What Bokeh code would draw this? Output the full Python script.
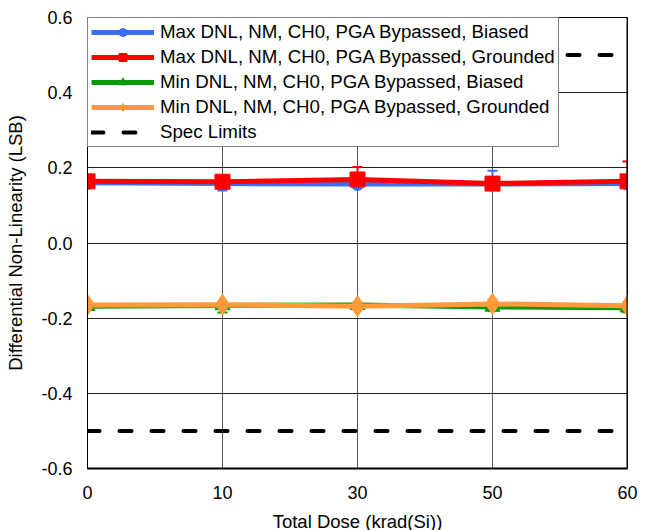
from bokeh.plotting import figure
from bokeh.models import (Range1d, FixedTicker, NumeralTickFormatter, Whisker,
                          ColumnDataSource, Span, TeeHead, Legend)
from bokeh.embed import file_html
from bokeh.resources import INLINE

# ---- data ----
doses = ["0", "10", "30", "50", "60"]
max_biased = [0.160, 0.158, 0.157, 0.157, 0.158]
max_grounded = [0.164, 0.163, 0.169, 0.158, 0.164]
min_biased = [-0.168, -0.166, -0.165, -0.170, -0.172]
min_grounded = [-0.165, -0.164, -0.168, -0.162, -0.167]

max_biased_lo = [0.150, 0.140, 0.150, 0.150, 0.150]
max_biased_hi = [0.168, 0.168, 0.168, 0.192, 0.168]
max_grounded_lo = [0.155, 0.155, 0.160, 0.150, 0.155]
max_grounded_hi = [0.172, 0.172, 0.202, 0.166, 0.217]
min_biased_lo = [-0.178, -0.185, -0.175, -0.180, -0.184]
min_biased_hi = [-0.160, -0.158, -0.158, -0.162, -0.164]
min_grounded_lo = [-0.175, -0.174, -0.178, -0.172, -0.177]
min_grounded_hi = [-0.157, -0.156, -0.160, -0.150, -0.159]

spec_upper = 0.5
spec_lower = -0.5
y_ticks = [-0.6, -0.4, -0.2, 0.0, 0.2, 0.4, 0.6]

labels = [
    "Max DNL, NM, CH0, PGA Bypassed, Biased",
    "Max DNL, NM, CH0, PGA Bypassed, Grounded",
    "Min DNL, NM, CH0, PGA Bypassed, Biased",
    "Min DNL, NM, CH0, PGA Bypassed, Grounded",
    "Spec Limits",
]

FONT = "Liberation Sans"
x = list(range(len(doses)))

p = figure(width=637, height=523, output_backend="svg", toolbar_location=None,
           x_range=Range1d(0, len(doses) - 1), y_range=Range1d(-0.6, 0.6),
           min_border_left=87, min_border_right=10, min_border_top=17,
           min_border_bottom=55)
p.frame_width = 540
p.frame_height = 451

p.outline_line_color = "black"
p.outline_line_width = 1
p.background_fill_color = "white"

p.xaxis.ticker = FixedTicker(ticks=x)
p.xaxis.major_label_overrides = {i: d for i, d in enumerate(doses)}
p.yaxis.ticker = FixedTicker(ticks=y_ticks)
p.yaxis.formatter = NumeralTickFormatter(format="0.0")

for ax in (p.xaxis[0], p.yaxis[0]):
    ax.major_tick_out = 0
    ax.major_tick_in = 0
    ax.minor_tick_out = 0
    ax.minor_tick_in = 0
    ax.major_label_text_font = FONT
    ax.major_label_text_font_size = "18px"
    ax.major_label_text_color = "black"
    ax.axis_label_text_font = FONT
    ax.axis_label_text_font_size = "18.5px"
    ax.axis_label_text_font_style = "normal"
    ax.axis_label_text_color = "black"
    ax.axis_line_color = "black"

p.xaxis.major_label_standoff = 17
p.yaxis.major_label_standoff = 15
p.xaxis.axis_line_width = 2
p.yaxis.axis_line_width = 1
p.xaxis.axis_label = "Total Dose (krad(Si))"
p.yaxis.axis_label = "Differential Non-Linearity (LSB)"
p.xaxis.axis_label_standoff = 9
p.yaxis.axis_label_standoff = 12

p.xgrid.grid_line_color = "#555555"
p.xgrid.grid_line_width = 1
p.ygrid.grid_line_color = "#222222"
p.ygrid.grid_line_width = 1

p.add_layout(Span(location=len(doses) - 1, dimension="height",
                  line_color="black", line_width=2))

series = [
    (max_biased, max_biased_lo, max_biased_hi, "#3C6CF0", "circle", 13, labels[0]),
    (max_grounded, max_grounded_lo, max_grounded_hi, "#FF0000", "square", 15, labels[1]),
    (min_biased, min_biased_lo, min_biased_hi, "#0A990A", "triangle", 15, labels[2]),
    (min_grounded, min_grounded_lo, min_grounded_hi, "#FF9A3A", "diamond", 21, labels[3]),
]

legend_items = []
for ys, lo, hi, color, marker, size, lab in series:
    src = ColumnDataSource(dict(x=x, y=ys, lo=lo, hi=hi))
    w = Whisker(source=src, base="x", lower="lo", upper="hi",
                line_color=color, line_width=2,
                upper_head=TeeHead(size=10, line_color=color, line_width=2),
                lower_head=TeeHead(size=10, line_color=color, line_width=2))
    p.add_layout(w)
    l = p.line("x", "y", source=src, line_color=color, line_width=5)
    s = p.scatter("x", "y", source=src, marker=marker, size=size,
                  fill_color=color, line_color=color)
    legend_items.append((lab, [l, s]))

spec_src_u = ColumnDataSource(dict(x=[x[0], x[-1]], y=[spec_upper, spec_upper]))
spec_src_l = ColumnDataSource(dict(x=[x[0], x[-1]], y=[spec_lower, spec_lower]))
sl1 = p.line("x", "y", source=spec_src_u, line_color="black", line_width=4,
             line_dash="12 20", line_cap="round")
sl2 = p.line("x", "y", source=spec_src_l, line_color="black", line_width=4,
             line_dash="12 20", line_cap="round")
legend_items.append((labels[4], [sl1]))

legend = Legend(items=legend_items, location="top_left")
legend.label_text_font = FONT
legend.label_text_font_size = "18.7px"
legend.label_text_color = "black"
legend.glyph_width = 63
legend.glyph_height = 20
legend.label_height = 20
legend.spacing = 3
legend.padding = 3
legend.margin = 0
legend.label_standoff = 6
legend.border_line_color = "black"
legend.border_line_width = 1
legend.background_fill_alpha = 1
p.add_layout(legend)

open("out.html", "w").write(file_html(p, INLINE))
